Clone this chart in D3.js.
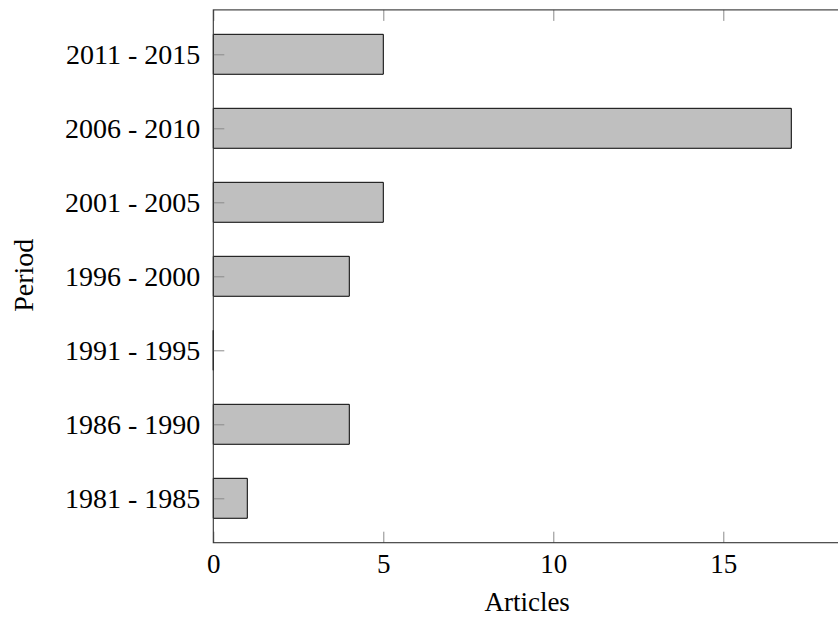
<!DOCTYPE html>
<html>
<head>
<meta charset="utf-8">
<script src="https://cdn.jsdelivr.net/npm/d3@7/dist/d3.min.js"></script>
<style>
  html, body { margin: 0; padding: 0; background: #fff; }
  svg { display: block; }
  text { font-family: "Liberation Serif", "DejaVu Serif", serif; fill: #000; }
</style>
</head>
<body>
<svg id="chart" width="838" height="617"></svg>
<script>
// Articles published per five-year period
const periods = ["1981 - 1985", "1986 - 1990", "1991 - 1995", "1996 - 2000",
                 "2001 - 2005", "2006 - 2010", "2011 - 2015"];
const articles = [1, 4, 0, 4, 5, 17, 5];
const xTickValues = [0, 5, 10, 15];
const xLabel = "Articles";
const yLabel = "Period";

const svg = d3.select("#chart");
const fontSize = 28;

const plotLeft = 213.3, plotTop = 9.9, plotBottom = 542.7;
const x = d3.scaleLinear().domain([0, 19]).range([plotLeft, plotLeft + 19 * 34]);
const y = d3.scaleLinear().domain([-0.6, periods.length - 0.4]).range([plotBottom, plotTop]);
const barHalf = 0.27;

// bars (path so a zero-length bar still shows its outline)
svg.append("g")
  .selectAll("path")
  .data(articles)
  .join("path")
  .attr("d", (v, i) => {
    const x0 = x(0), x1 = x(v), y0 = y(i + barHalf), y1 = y(i - barHalf);
    return `M${x0},${y0}H${x1}V${y1}H${x0}Z`;
  })
  .attr("fill", "#bfbfbf")
  .attr("stroke", "#000")
  .attr("stroke-width", 1);

// axes: ticks point inward
const tickLen = 11;
const gx = svg.append("g")
  .attr("transform", `translate(0,${plotBottom})`)
  .call(d3.axisBottom(x).tickValues(xTickValues).tickFormat(d3.format("d"))
        .tickSizeInner(-tickLen).tickSizeOuter(0).tickPadding(12));
const gxTop = svg.append("g")
  .attr("transform", `translate(0,${plotTop})`)
  .call(d3.axisTop(x).tickValues(xTickValues).tickFormat("")
        .tickSizeInner(-tickLen).tickSizeOuter(0));
const gy = svg.append("g")
  .attr("transform", `translate(${plotLeft},0)`)
  .call(d3.axisLeft(y).tickValues(d3.range(periods.length)).tickFormat(i => periods[i])
        .tickSizeInner(-tickLen).tickSizeOuter(0).tickPadding(13));

[gx, gxTop, gy].forEach(g => {
  g.select(".domain").remove();
  g.selectAll(".tick line").attr("stroke", "#8a8a8a").attr("stroke-width", 1);
  g.selectAll("text").attr("font-size", fontSize)
    .style("font-family", '"Liberation Serif", "DejaVu Serif", serif');
});
gx.selectAll("text").attr("font-size", 27).attr("dy", "0.68em");
gy.selectAll("text").attr("dy", "0.33em");

// frame
svg.append("rect")
  .attr("x", x(0)).attr("y", plotTop)
  .attr("width", x.range()[1] - x(0)).attr("height", plotBottom - plotTop)
  .attr("fill", "none").attr("stroke", "#333").attr("stroke-width", 1.1);

// axis titles
svg.append("text")
  .attr("x", (x(0) + 838) / 2 + 1.5).attr("y", 611)
  .attr("text-anchor", "middle").attr("font-size", 27)
  .text(xLabel);
svg.append("text")
  .attr("transform", `translate(33,${(plotTop + plotBottom) / 2 - 1}) rotate(-90)`)
  .attr("text-anchor", "middle").attr("font-size", fontSize)
  .text(yLabel);
</script>
</body>
</html>
